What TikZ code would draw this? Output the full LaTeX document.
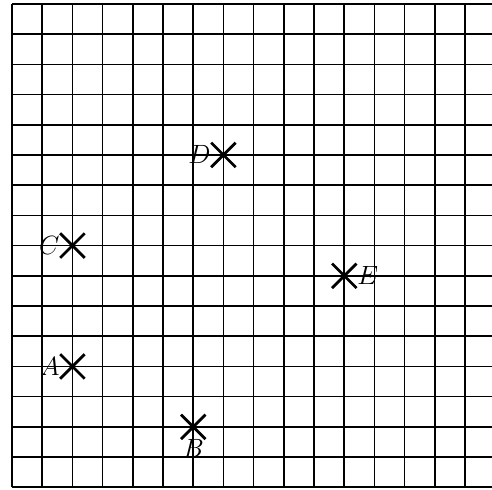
\documentclass[tikz,border=0pt]{standalone}
\usepackage{amsmath,amssymb}
\usepackage{tikz}
\usetikzlibrary{shapes.misc}
\usetikzlibrary{positioning}

\tikzset{
  pt/.style={cross out, draw, line width=2.6pt, inner sep=0pt, minimum size=0.72cm},
  lab/.style={inner sep=0.5pt, font=\fontsize{23}{27}\selectfont}
}

\begin{document}
\begin{tikzpicture}
  \useasboundingbox (-0.397,-0.066) rectangle (15.89,16.13);
  % ===== Grid =====
  \draw[line width=1.5pt] (0,0) grid (16,16);

  % Points
  \node[pt] (A) at (2,4) {};
  \node[pt] (B) at (6,2) {};
  \node[pt] (C) at (2,8) {};
  \node[pt] (D) at (7,11) {};
  \node[pt] (E) at (11,7) {};

  % Labels
  \node[lab, left=0pt of A] (labA) {$A$};
  \node[lab, below=0pt of B] (labB) {$B$};
  \node[lab, left=0pt of C] (labC) {$C$};
  \node[lab, left=0pt of D] (labD) {$D$};
  \node[lab, right=0pt of E] (labE) {$E$};
\end{tikzpicture}
\end{document}
